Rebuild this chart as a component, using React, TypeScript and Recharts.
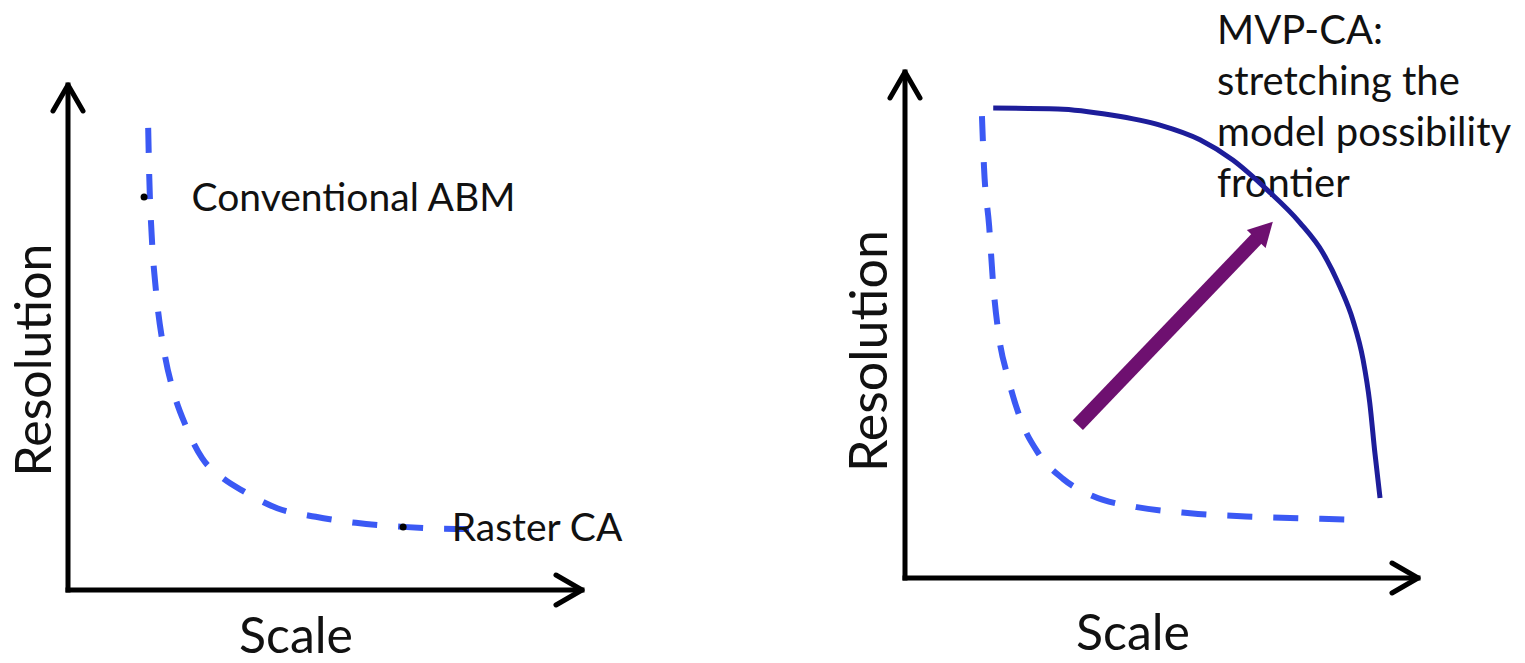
import { LineChart, Line, XAxis, YAxis, ReferenceLine, ReferenceDot } from "recharts";

const FONT = "Lato, 'Open Sans', sans-serif";

// left panel: the conventional trade-off curve
const leftScale = [15.6, 15.8, 16.3, 17.1, 18.7, 20.6, 23.0, 26.1, 29.8, 34.4, 40.7, 48.2, 56.0, 65.2, 75.3, 82.5];
const leftResolution = [91.5, 82.2, 69.9, 59.4, 47.3, 39.0, 32.3, 26.1, 22.4, 19.4, 16.2, 14.5, 13.3, 12.5, 12.1, 12.1];

// right panel: same old curve, plus the stretched frontier
const rightScale = [15.0, 15.4, 16.4, 17.2, 18.3, 20.1, 22.6, 26.1, 30.8, 36.6, 45.2, 55.6, 68.2, 81.1, 88.3];
const rightResolution = [91.3, 81.2, 69.6, 57.9, 47.8, 39.5, 31.2, 24.5, 19.6, 16.2, 14.0, 12.8, 12.1, 11.7, 11.5];

const frontierScale = [17.2, 29.8, 40.2, 49.7, 57.5, 63.9, 70.6, 77.0, 81.5, 84.8, 87.3, 89.3, 90.6, 91.6, 92.6];
const frontierResolution = [92.9, 92.7, 91.5, 89.5, 86.6, 82.6, 76.7, 70.2, 64.2, 57.5, 51.0, 43.1, 34.6, 24.7, 15.8];

const shiftFrom = { x: 33.7, y: 30.2 };
const shiftTo = { x: 71.7, y: 70.4 };

const annotations = [
  { label: "Conventional ABM", x: 14.8, y: 77.8, gap: 44 },
  { label: "Raster CA", x: 65.2, y: 12.5, gap: 45 },
];

const frontierNote = ["MVP-CA:", "stretching the", "model possibility", "frontier"];

const toPoints = (xs: number[], ys: number[]) => xs.map((x, i) => ({ x, y: ys[i] }));

const DASH_BLUE = "#3b59f4";
const NAVY = "#1d1d9a";
const PURPLE = "#6e1070";

function AxisArrow(props: any) {
  const { x1, y1, x2, y2 } = props;
  const len = Math.hypot(x2 - x1, y2 - y1) || 1;
  const dx = (x2 - x1) / len;
  const dy = (y2 - y1) / len;
  const bx = x2 - dx * 26;
  const by = y2 - dy * 26;
  const nx = -dy * 15;
  const ny = dx * 15;
  return (
    <g>
      <line x1={x1} y1={y1} x2={x2} y2={y2} stroke="#000" strokeWidth={5} strokeLinecap="square" />
      <path
        d={`M${bx + nx},${by + ny}L${x2},${y2}L${bx - nx},${by - ny}`}
        fill="none"
        stroke="#000"
        strokeWidth={5}
        strokeLinejoin="round"
        strokeLinecap="round"
      />
    </g>
  );
}

function ThickArrow(props: any) {
  const { x1, y1, x2, y2 } = props;
  const len = Math.hypot(x2 - x1, y2 - y1) || 1;
  const dx = (x2 - x1) / len;
  const dy = (y2 - y1) / len;
  const bx = x2 - dx * 24;
  const by = y2 - dy * 24;
  const nx = -dy * 13;
  const ny = dx * 13;
  return (
    <g>
      <line x1={x1} y1={y1} x2={bx + dx * 2} y2={by + dy * 2} stroke={PURPLE} strokeWidth={14} />
      <polygon points={`${x2},${y2} ${bx + nx},${by + ny} ${bx - nx},${by - ny}`} fill={PURPLE} />
    </g>
  );
}

function Axes() {
  return [
    <ReferenceLine
      key="ax-y"
      segment={[{ x: 0, y: 0 }, { x: 0, y: 100 }]}
      ifOverflow="visible"
      shape={(p: any) => <AxisArrow {...p} />}
    />,
    <ReferenceLine
      key="ax-x"
      segment={[{ x: 0, y: 0 }, { x: 100, y: 0 }]}
      ifOverflow="visible"
      shape={(p: any) => <AxisArrow {...p} />}
    />,
  ];
}

const textStyle = { fontFamily: FONT, fill: "#111" };

export default function App() {
  return (
    <div style={{ position: "absolute", left: 0, top: 0, width: 1525, height: 663, background: "#fff" }}>
      <div style={{ position: "absolute", left: 0, top: 0 }}>
        <LineChart width={760} height={663} margin={{ top: 85, right: 178, bottom: 73, left: 68 }}>
          <XAxis type="number" dataKey="x" domain={[0, 100]} hide />
          <YAxis type="number" dataKey="y" domain={[0, 100]} hide />
          {Axes()}
          <Line
            data={toPoints(leftScale, leftResolution)}
            dataKey="y"
            type="monotone"
            stroke={DASH_BLUE}
            strokeWidth={6}
            strokeDasharray="25 21"
            dot={false}
            activeDot={false}
            isAnimationActive={false}
          />
          {annotations.map((a) => (
            <ReferenceDot
              key={a.label}
              x={a.x}
              y={a.y}
              r={3.5}
              fill="#000"
              stroke="none"
              ifOverflow="visible"
              label={{
                value: a.label,
                position: "right",
                offset: a.gap,
                fontSize: 39,
                fontFamily: FONT,
                fill: "#111",
              }}
            />
          ))}
          <text x={51} y={360} transform="rotate(-90 51 360)" textAnchor="middle" fontSize={50} {...textStyle}>
            Resolution
          </text>
          <text x={296} y={653} textAnchor="middle" fontSize={50} {...textStyle}>
            Scale
          </text>
        </LineChart>
      </div>
      <div style={{ position: "absolute", left: 760, top: 0 }}>
        <LineChart width={765} height={663} margin={{ top: 72, right: 107, bottom: 85, left: 145 }}>
          <XAxis type="number" dataKey="x" domain={[0, 100]} hide />
          <YAxis type="number" dataKey="y" domain={[0, 100]} hide />
          {Axes()}
          <Line
            data={toPoints(rightScale, rightResolution)}
            dataKey="y"
            type="monotone"
            stroke={DASH_BLUE}
            strokeWidth={6}
            strokeDasharray="25 21"
            dot={false}
            activeDot={false}
            isAnimationActive={false}
          />
          <Line
            data={toPoints(frontierScale, frontierResolution)}
            dataKey="y"
            type="monotone"
            stroke={NAVY}
            strokeWidth={5}
            dot={false}
            activeDot={false}
            isAnimationActive={false}
          />
          <ReferenceLine
            segment={[shiftFrom, shiftTo]}
            ifOverflow="visible"
            shape={(p: any) => <ThickArrow {...p} />}
          />
          {frontierNote.map((line, i) => (
            <text key={line} x={457} y={44 + i * 51} fontSize={40} {...textStyle}>
              {line}
            </text>
          ))}
          <text x={127} y={351} transform="rotate(-90 127 351)" textAnchor="middle" fontSize={52} {...textStyle}>
            Resolution
          </text>
          <text x={373} y={650} textAnchor="middle" fontSize={50} {...textStyle}>
            Scale
          </text>
        </LineChart>
      </div>
    </div>
  );
}
